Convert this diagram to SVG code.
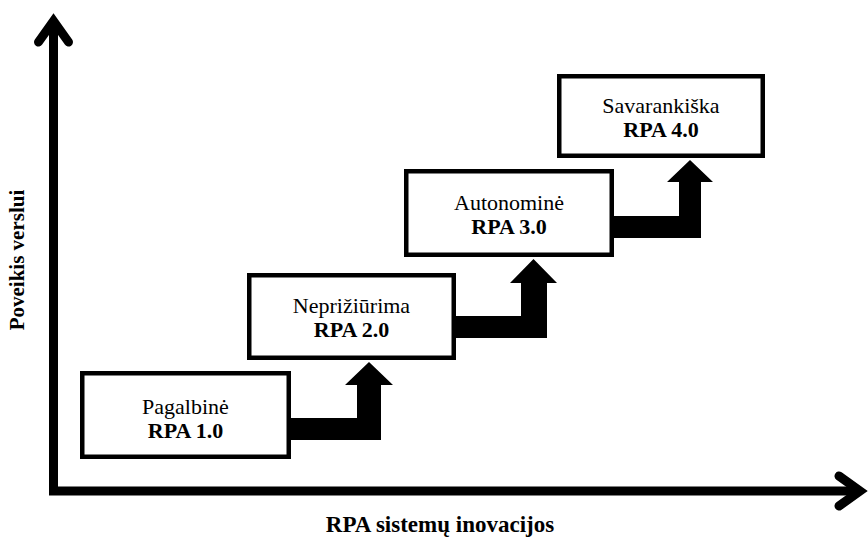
<svg xmlns="http://www.w3.org/2000/svg" width="868" height="539" viewBox="0 0 868 539">
<style>
.box{fill:#fff;stroke:#000;stroke-width:4.5}
.t{font-family:"Liberation Serif","Times New Roman",serif;font-size:22px;text-anchor:middle;fill:#000}
.b{font-weight:bold}
.ax{fill:none;stroke:#000;stroke-width:9}
.hd{fill:none;stroke:#000;stroke-width:9;stroke-linecap:round;stroke-linejoin:miter}
.lbl{font-family:"Liberation Serif","Times New Roman",serif;font-size:21px;font-weight:bold;text-anchor:middle;fill:#000}
</style>
<rect width="868" height="539" fill="#fff"/>
<g id="axes">
<path class="ax" d="M53.5,22 V491 H860"/>
<polyline class="hd" points="38.5,42 53.5,21 68.5,42"/>
<polyline class="hd" points="839,476 860,491 839,506"/>
</g>
<g id="connectors">
<polygon points="290,418 357,418 357,385 345,385 369,362 393,385 381,385 381,440 290,440"/>
<polygon points="455,316 521,316 521,283 510,283 533.5,259 557,283 547,283 547,338 455,338"/>
<polygon points="613,216 679,216 679,182 667,182 690,160 713,182 701,182 701,238 613,238"/>
</g>
<g id="node1">
<rect class="box" x="82.25" y="373.25" width="206.5" height="83.5"/>
<text class="t" x="185.5" y="414">Pagalbinė</text>
<text class="t b" x="185.5" y="438">RPA 1.0</text>
</g>
<g id="node2">
<rect class="box" x="249.25" y="275.25" width="204.5" height="82.5"/>
<text class="t" x="351.5" y="313">Neprižiūrima</text>
<text class="t b" x="351.5" y="337">RPA 2.0</text>
</g>
<g id="node3">
<rect class="box" x="406.25" y="171.25" width="205.5" height="83.5"/>
<text class="t" x="509" y="210">Autonominė</text>
<text class="t b" x="509" y="234">RPA 3.0</text>
</g>
<g id="node4">
<rect class="box" x="559.25" y="76.25" width="203.5" height="79.5"/>
<text class="t" x="661" y="113">Savarankiška</text>
<text class="t b" x="661" y="137">RPA 4.0</text>
</g>
<g id="labels">
<text class="lbl" x="440" y="532" style="font-size:23px">RPA sistemų inovacijos</text>
<text class="lbl" transform="translate(24,260) rotate(-90)">Poveikis verslui</text>
</g>
</svg>
